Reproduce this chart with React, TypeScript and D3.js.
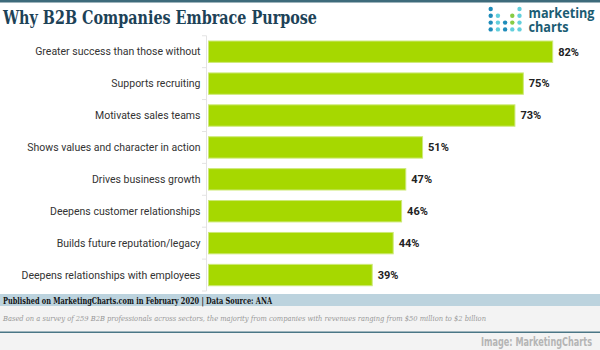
import React from "react";
import * as d3 from "d3";

const categories = [
  "Greater success than those without",
  "Supports recruiting",
  "Motivates sales teams",
  "Shows values and character in action",
  "Drives business growth",
  "Deepens customer relationships",
  "Builds future reputation/legacy",
  "Deepens relationships with employees",
];
const values = [82, 75, 73, 51, 47, 46, 44, 39];

const title = "Why B2B Companies Embrace Purpose";
const source = "Published on MarketingCharts.com in February 2020 | Data Source: ANA";
const note =
  "Based on a survey of 259 B2B professionals across sectors, the majority from companies with revenues ranging from $50 million to $2 billion";
const credit = "Image: MarketingCharts";

const W = 600;
const H = 350;

// logo dot pattern: rows of [colIndex, colorKey]
const logoRows: [number, string][][] = [
  [[0, "b"], [4, "c"]],
  [[0, "b"], [1, "c"], [3, "g"], [4, "c"]],
  [[0, "b"], [1, "c"], [2, "b"], [3, "g"], [4, "c"]],
  [[0, "b"], [1, "c"], [2, "b"], [3, "c"], [4, "c"]],
];
const logoColors: Record<string, string> = { b: "#1f8cba", c: "#62cfdc", g: "#86cc45" };

const serif = "'DejaVu Serif', serif";

export default function App() {
  const x = d3.scaleLinear().domain([0, 82]).range([208.5, 552.7]);
  const y = d3
    .scaleBand<string>()
    .domain(categories)
    .range([35.75, 291])
    .paddingInner(0.33)
    .paddingOuter(0.165);

  const step = y.step();
  const tickYs = d3.range(categories.length + 1).map((i) => 35.75 + i * step);

  return (
    <svg
      width={W}
      height={H}
      style={{ position: "fixed", left: 0, top: 0, display: "block", background: "#fff" }}
    >
      <rect x={0} y={0} width={W} height={2.5} fill="#3e6b7b" />
      <text
        x={3}
        y={23.5}
        fontFamily={serif}
        fontStretch="condensed"
        fontWeight="bold"
        fontSize={18.5}
        fill="#1d4257"
        textLength={314}
        lengthAdjust="spacingAndGlyphs"
      >
        {title}
      </text>

      {/* logo */}
      {logoRows.map((row, ri) =>
        row.map(([ci, ck]) => (
          <circle
            key={`${ri}-${ci}`}
            cx={490.7 + ci * 7.2}
            cy={9 + ri * 6.8}
            r={2.2}
            fill={logoColors[ck]}
          />
        ))
      )}
      <text
        x={528.5}
        y={18.3}
        fontFamily="'Open Sans', 'DejaVu Sans', sans-serif"
        fontWeight="bold"
        fontSize={13.5}
        fill="#1b5c73"
        textLength={66}
        lengthAdjust="spacingAndGlyphs"
      >
        marketing
      </text>
      <text
        x={528.5}
        y={31.7}
        fontFamily="'Open Sans', 'DejaVu Sans', sans-serif"
        fontWeight="bold"
        fontSize={13.5}
        fill="#1b5c73"
        textLength={40}
        lengthAdjust="spacingAndGlyphs"
      >
        charts
      </text>

      {/* axis */}
      <line x1={206.5} x2={206.5} y1={tickYs[0]} y2={tickYs[tickYs.length - 1]} stroke="#e3e3e3" />
      {tickYs.map((ty, i) => (
        <line key={i} x1={202} x2={206.5} y1={ty} y2={ty} stroke="#e3e3e3" />
      ))}

      {categories.map((c, i) => {
        const by = y(c)!;
        const bh = y.bandwidth();
        return (
          <g key={c}>
            <rect
              x={x(0)}
              y={by}
              width={x(values[i]) - x(0)}
              height={bh}
              fill="#a6d800"
              stroke="#cde978"
              strokeWidth={1}
            />
            <text
              x={200.5}
              y={by + bh / 2}
              dy="0.35em"
              textAnchor="end"
              fontFamily="Roboto, sans-serif"
              fontSize={10.5}
              fill="#333"
            >
              {c}
            </text>
            <text
              x={x(values[i]) + 5.5}
              y={by + bh / 2}
              dy="0.35em"
              fontFamily="Roboto, sans-serif"
              fontWeight="bold"
              fontSize={11}
              fill="#222"
            >
              {values[i]}%
            </text>
          </g>
        );
      })}

      {/* footer */}
      <rect x={0} y={294} width={W} height={12} fill="#bcd3de" />
      <rect x={0} y={306} width={W} height={44} fill="#f3f3f3" />
      <text
        x={3}
        y={303.5}
        fontFamily={serif}
        fontWeight="bold"
        fontSize={9.5}
        fill="#111"
        textLength={269}
        lengthAdjust="spacingAndGlyphs"
      >
        {source}
      </text>
      <text
        x={3}
        y={321}
        fontFamily={serif}
        fontStyle="italic"
        fontSize={8}
        fill="#999"
        textLength={483}
        lengthAdjust="spacingAndGlyphs"
      >
        {note}
      </text>
      <rect x={0} y={331.5} width={W} height={1.5} fill="#4a7686" />
      <text
        x={481}
        y={346}
        fontFamily="'DejaVu Sans', sans-serif"
        fontStretch="condensed"
        fontWeight="bold"
        fontSize={12.5}
        fill="#b5b5b5"
        textLength={111}
        lengthAdjust="spacingAndGlyphs"
      >
        {credit}
      </text>
    </svg>
  );
}
